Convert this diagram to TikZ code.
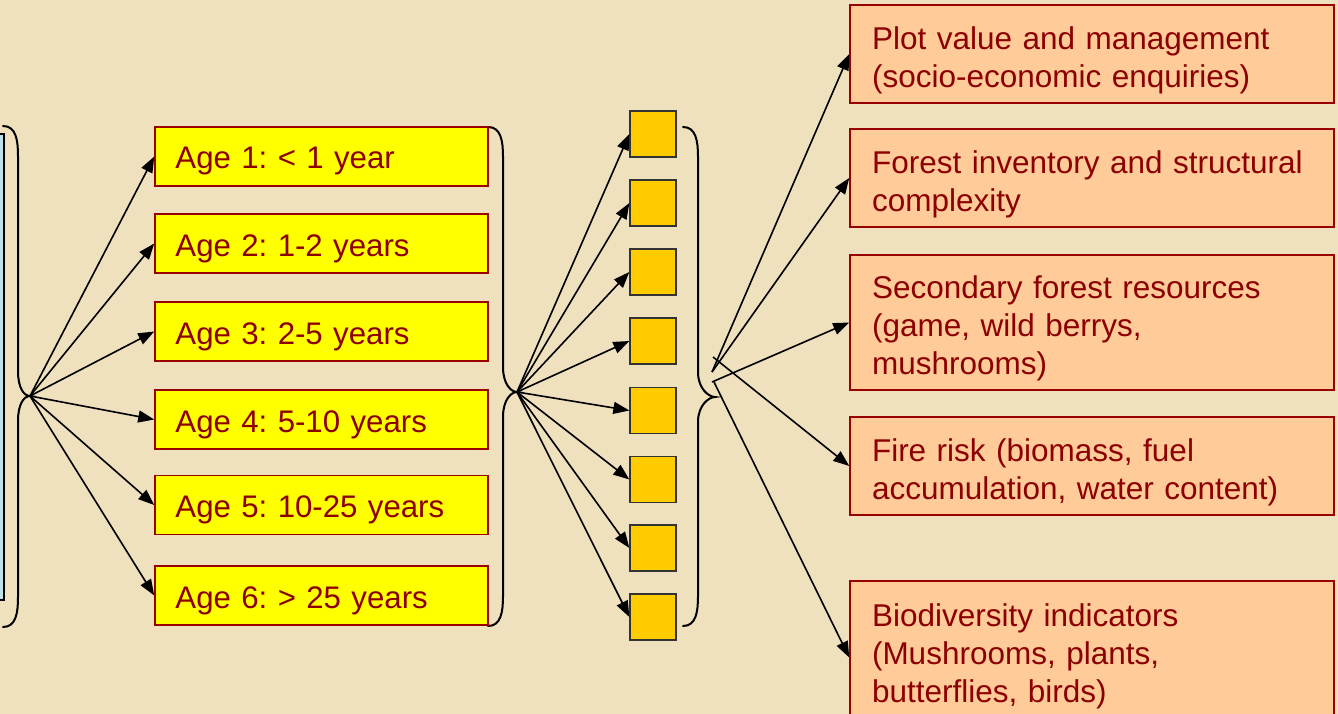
\documentclass[tikz,border=0pt]{standalone}
\usepackage{fontspec}
\setmainfont{Liberation Sans}
\usetikzlibrary{arrows.meta}
\frenchspacing
\definecolor{bg}{RGB}{239,224,190}
\definecolor{txt}{RGB}{140,0,0}
\definecolor{bord}{RGB}{153,0,0}
\definecolor{agefill}{RGB}{255,255,0}
\definecolor{resfill}{RGB}{255,204,153}
\definecolor{sqfill}{RGB}{255,204,0}
\definecolor{bluefill}{RGB}{190,224,232}
\tikzset{
  agebox/.style={draw=bord, line width=1.5pt, fill=agefill, minimum width=333pt, minimum height=59pt, inner sep=0pt},
  agetext/.style={inner xsep=0pt, inner ysep=0pt, text width=291pt, align=left, text=txt, font=\fontsize{31.2}{38}\selectfont},
  resbox/.style={draw=bord, line width=1.5pt, fill=resfill, minimum width=484pt, inner sep=0pt},
  restext/.style={inner sep=0pt, text width=440pt, align=left, text=txt, font=\fontsize{31.5}{38}\selectfont},
  sqbox/.style={draw=black!80, line width=1.3pt, fill=sqfill, minimum width=46pt, minimum height=46pt, inner sep=0pt},
  conn/.style={line width=1.6pt, -{Triangle[length=16pt,width=12pt]}},
  bracestyle/.style={line width=2pt, line cap=round}
}
\begin{document}
\begin{tikzpicture}[x=1pt,y=-1pt]
\useasboundingbox (0,0) rectangle (1338,714);
\clip (0,0) rectangle (1338,714);
\fill[bg] (0,0) rectangle (1338,714);

% left partial blue box
\node[draw=black, line width=1.5pt, fill=bluefill, minimum width=20pt, minimum height=466pt, inner sep=0pt] (blue) at (-6,367) {};

% braces
\draw[bracestyle] (3,126) .. controls (16,126) and (18,140) .. (18,156) -- (18,371)
  .. controls (18,388) and (24,396) .. (30,396) .. controls (24,396) and (18,404) .. (18,421)
  -- (18,597) .. controls (18,613) and (16,627) .. (3,627);
\draw[bracestyle] (488,127) .. controls (501,127) and (503,141) .. (503,157) -- (503,367)
  .. controls (503,384) and (511,392) .. (517,392) .. controls (511,392) and (503,400) .. (503,417)
  -- (503,596) .. controls (503,612) and (501,626) .. (488,626);
\draw[bracestyle] (683,127) .. controls (696,127) and (698,141) .. (698,157) -- (698,372)
  .. controls (698,389) and (709,397) .. (715,397) .. controls (709,397) and (698,405) .. (698,422)
  -- (698,596) .. controls (698,612) and (696,626) .. (683,626);

% age boxes
\foreach \i/\y/\t in {1/156.5/{Age 1: < 1 year}, 2/243.5/{Age 2: 1-2 years}, 3/331.5/{Age 3: 2-5 years},
                      4/419.5/{Age 4: 5-10 years}, 5/505/{Age 5: 10-25 years}, 6/595.5/{Age 6: > 25 years}} {
  \node[agebox] (a\i) at (321.5,\y) {};
  \node[agetext, anchor=base west] (at\i) at ([xshift=21pt, yshift=-12.5pt]a\i.west) {\t};
}

% squares
\foreach \i/\y in {1/134, 2/203, 3/272, 4/341, 5/410.5, 6/479.5, 7/548, 8/617} {
  \node[sqbox] (s\i) at (653,\y) {};
}

% result boxes
\node[resbox, minimum height=98pt] (r1) at (1092,54) {};
\node[resbox, minimum height=98pt] (r2) at (1092,178) {};
\node[resbox, minimum height=135pt] (r3) at (1092,322.5) {};
\node[resbox, minimum height=98pt] (r4) at (1092,466) {};
\node[resbox, minimum height=139pt] (r5) at (1092,650.5) {};
\node[restext] (rt1) at ([yshift=-6pt]r1.center) {Plot value and management\\(socio-economic enquiries)};
\node[restext] (rt2) at ([yshift=-6pt]r2.center) {Forest inventory and structural\\complexity};
\node[restext] (rt3) at ([yshift=-6pt]r3.center) {Secondary forest resources\\(game, wild berrys,\\mushrooms)};
\node[restext] (rt4) at ([yshift=-6pt]r4.center) {Fire risk (biomass, fuel\\accumulation, water content)};
\node[restext] (rt5) at ([yshift=-6pt]r5.center) {Biodiversity indicators\\(Mushrooms, plants,\\butterflies, birds)};

% fan origins
\coordinate (o1) at (30,396);
\coordinate (o2) at (517,392);
\coordinate (p1) at (712,372);
\coordinate (p2) at (712,382);
\coordinate (p3) at (713,357);
\coordinate (p4) at (714,382);

\foreach \i in {1,...,6} \draw[conn] (o1) -- (a\i.west);
\foreach \i in {1,...,8} \draw[conn] (o2) -- (s\i.west);
\draw[conn] (p1) -- (r1.west);
\draw[conn] (p1) -- (r2.west);
\draw[conn] (p2) -- (r3.west);
\draw[conn] (p3) -- (r4.west);
\draw[conn] (p4) -- ([yshift=-7pt]r5.west);
\end{tikzpicture}
\end{document}
